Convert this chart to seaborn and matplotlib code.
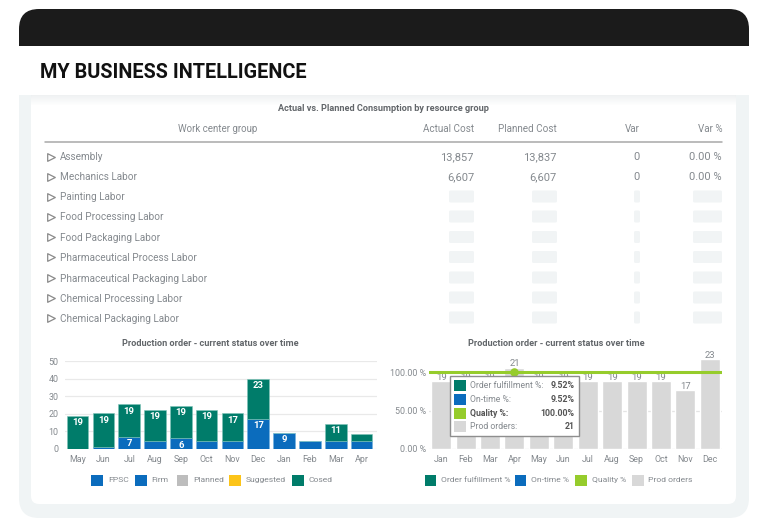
import numpy as np
import pandas as pd
import seaborn as sns
import matplotlib
matplotlib.use('Agg')
import matplotlib.pyplot as plt
from matplotlib.patches import FancyBboxPatch, Rectangle

# table data
work_centers = ['Assembly', 'Mechanics Labor', 'Painting Labor', 'Food Processing Labor',
                'Food Packaging Labor', 'Pharmaceutical Process Labor',
                'Pharmaceutical Packaging Labor', 'Chemical Processing Labor',
                'Chemical Packaging Labor']
actual_cost = ['13,857', '6,607']
planned_cost = ['13,837', '6,607']
var_abs = ['0', '0']
var_pct = ['0.00 %', '0.00 %']

# left chart
status_months = ['May', 'Jun', 'Jul', 'Aug', 'Sep', 'Oct', 'Nov', 'Dec', 'Jan', 'Feb', 'Mar', 'Apr']
firm_orders = [0, 1, 7, 4.5, 6, 4.5, 4.5, 17, 9, 4.5, 4.5, 4.5]
closed_orders = [19, 19.3, 18.5, 17.7, 18.8, 17.7, 15.8, 23, 0, 0, 10, 4.3]
firm_labels = ['', '', '7', '', '6', '', '', '17', '9', '', '', '']
closed_labels = ['19', '19', '19', '19', '19', '19', '17', '23', '', '', '11', '']

# right chart
kpi_months = ['Jan', 'Feb', 'Mar', 'Apr', 'May', 'Jun', 'Jul', 'Aug', 'Sep', 'Oct', 'Nov', 'Dec']
prod_orders = [19, 19, 19, 21, 19, 19, 19, 19, 19, 19, 17, 23]
prod_bar_pct = [88, 88, 88, 106, 88, 88, 88, 88, 88, 88, 77, 117]
quality_pct = 100
hover_month = 'Apr'
tooltip_names = ['Order fulfillment %:', 'On-time %:', 'Quality %:', 'Prod orders:']
tooltip_values = ['9.52%', '9.52%', '100.00%', '21']

TEAL = '#007c6a'
BLUE = '#0b6cbd'
GREEN = '#96cc2c'
GREY = '#d8d8d8'
TXT = '#84898e'
TXT_DARK = '#62666a'
PANEL = '#f0f4f5'

sns.set_theme(style='white')
plt.rcParams['font.family'] = ['Roboto', 'DejaVu Sans']

W, H = 768, 527
fig = plt.figure(figsize=(W / 100, H / 100), dpi=100, facecolor='white')


def px_axes(left, top, right, bottom, z):
    return fig.add_axes([left / W, 1 - bottom / H, (right - left) / W, (bottom - top) / H], zorder=z)


# page chrome, in pixels
bg = fig.add_axes([0, 0, 1, 1], zorder=0)
bg.set_xlim(0, W)
bg.set_ylim(H, 0)
bg.axis('off')
bg.add_patch(FancyBboxPatch((19, 60), 730, 458, boxstyle='round,pad=0,rounding_size=20', fc=PANEL, ec='none'))
bg.add_patch(FancyBboxPatch((19, 9), 730, 60, boxstyle='round,pad=0,rounding_size=20', fc='#1b1b1b', ec='none'))
bg.add_patch(FancyBboxPatch((31, 90), 705, 414, boxstyle='round,pad=0,rounding_size=8', fc='white', ec='none'))
bg.add_patch(Rectangle((19, 46), 730, 49, fc='white', ec='none'))
for i in range(10):
    bg.add_patch(Rectangle((31, 95 + i), 705, 1, fc='#e3e7e9', ec='none', alpha=0.55 * (1 - i / 10)))

bg.text(40, 72.5, 'MY BUSINESS INTELLIGENCE', fontsize=14.3, fontweight='bold', color='#111111', va='center')
bg.text(383, 108.5, 'Actual vs. Planned Consumption by resource group', fontsize=6.6, fontweight='bold',
        color=TXT_DARK, ha='center', va='center')

# table
col_right = [474, 557, 640, 722]
col_heads = ['Actual Cost', 'Planned Cost', 'Var', 'Var %']
col_data = [actual_cost, planned_cost, var_abs, var_pct]
col_skel = [25, 25, 6, 29]
row_y = [157.5, 177.5, 197.5, 217.5, 238, 258, 278.5, 298.5, 318.5]
bg.text(218, 129.5, 'Work center group', fontsize=7, color=TXT, ha='center', va='center')
bg.plot([45, 722], [142, 142], color='#a8a8a8', lw=1.1)
for x, head in zip(col_right, col_heads):
    bg.text(x, 129.5, head, fontsize=7.1, color=TXT, ha='right', va='center')
for i, (name, y) in enumerate(zip(work_centers, row_y)):
    bg.scatter([50.5], [y - 1], marker='>', s=30, facecolor='white', edgecolor='#8a8a8a', linewidth=0.9)
    bg.text(60, y, name, fontsize=7.2, color=TXT, va='center')
    for x, vals, skel in zip(col_right, col_data, col_skel):
        if i < len(vals):
            bg.text(x, y, vals[i], fontsize=8, color=TXT, ha='right', va='center')
        else:
            bg.add_patch(FancyBboxPatch((x - skel + 1, y - 6), skel - 2, 10,
                                        boxstyle='round,pad=1,rounding_size=1.5', fc='#f1f4f5', ec='none'))

# left chart
ax1 = px_axes(64.7, 361.3, 377, 449, 2)
ax1.patch.set_alpha(0)
status_df = pd.DataFrame({'month': status_months, 'firm': firm_orders, 'closed': closed_orders})
sns.barplot(data=status_df, x='month', y='firm', color=BLUE, saturation=1, width=0.84, ax=ax1,
            edgecolor='#6fb0e0', linewidth=0.4, order=status_months)
sns.barplot(data=status_df, x='month', y='closed', color=TEAL, saturation=1, width=0.84, ax=ax1,
            bottom=status_df['firm'], edgecolor='#7fc4b8', linewidth=0.4, order=status_months)
ax1.set_xlim(-0.5, 11.6)
ax1.set_ylim(0, 50)
ax1.set_yticks(range(0, 51, 10))
ax1.set_xlabel('')
ax1.set_ylabel('')
ax1.yaxis.grid(True, color='#e9e9e9', lw=0.9)
ax1.set_axisbelow(True)
sns.despine(ax=ax1, left=True, bottom=True)
ax1.tick_params(length=0, labelsize=6.4, labelcolor=TXT, pad=4)
ax1.tick_params(axis='y', pad=4.5)
for i, m in enumerate(status_months):
    if firm_labels[i]:
        ax1.text(i, firm_orders[i] - 1.3, firm_labels[i], color='white', fontsize=6.8, fontweight='bold',
                 ha='center', va='top')
    if closed_labels[i]:
        ax1.text(i, firm_orders[i] + closed_orders[i] - 1.3, closed_labels[i], color='white', fontsize=6.8,
                 fontweight='bold', ha='center', va='top')

# right chart
ax2 = px_axes(429, 355, 722, 449, 2)
ax2.patch.set_alpha(0)
kpi_df = pd.DataFrame({'month': kpi_months, 'bar': prod_bar_pct, 'orders': prod_orders})
sns.barplot(data=kpi_df, x='month', y='bar', color=GREY, saturation=1, width=0.82, ax=ax2, order=kpi_months)
ax2.axhline(quality_pct, color=GREEN, lw=2.2, zorder=3)
sns.scatterplot(x=[kpi_months.index(hover_month)], y=[quality_pct], color=GREEN, s=38, ax=ax2,
                zorder=4, linewidth=0, legend=False)
ax2.set_xlim(-0.5, 11.5)
ax2.set_ylim(0, 122.5)
ax2.set_yticks([0, 50, 100])
ax2.set_yticklabels(['0.00 %', '50.00 %', '100.00 %'])
ax2.set_xlabel('')
ax2.set_ylabel('')
ax2.yaxis.grid(True, color='#e4e4e4', lw=0.9)
ax2.set_axisbelow(True)
sns.despine(ax=ax2, left=True, bottom=True)
ax2.tick_params(length=0, labelsize=6.4, labelcolor=TXT, pad=4)
ax2.tick_params(axis='y', pad=2.2)
for i in range(len(kpi_months)):
    ax2.text(i, prod_bar_pct[i] + 5, str(prod_orders[i]), color=TXT, fontsize=6.8, ha='center', va='center',
             zorder=2)

# overlay, titles, legends and tooltip
top = fig.add_axes([0, 0, 1, 1], zorder=5)
top.set_xlim(0, W)
top.set_ylim(H, 0)
top.axis('off')
top.text(210.5, 343.5, 'Production order - current status over time', fontsize=6.6, fontweight='bold',
         color=TXT_DARK, ha='center', va='center')
top.text(556, 343.5, 'Production order - current status over time', fontsize=6.6, fontweight='bold',
         color=TXT_DARK, ha='center', va='center')

legend_left = [(91.3, BLUE, 'FPSC'), (135, BLUE, 'Firm'), (176.5, '#bdbdbd', 'Planned'),
               (229, '#fcc419', 'Suggested'), (292, TEAL, 'Cosed')]
legend_right = [(424.7, TEAL, 'Order fulfillment %'), (514.7, BLUE, 'On-time %'),
                (575, GREEN, 'Quality %'), (632, GREY, 'Prod orders')]
for x, c, label in legend_left + legend_right:
    top.add_patch(Rectangle((x, 474.5), 11.5, 11, fc=c, ec='none'))
    top.text(x + 16.5, 480, label, fontsize=6.1, color=TXT, va='center')

top.add_patch(Rectangle((449.5, 375.7), 129.5, 60, fc='white', ec='#8e8e8e', lw=1))
tip_colors = [TEAL, BLUE, GREEN, GREY]
tip_y = [385.7, 399, 413, 426.3]
for i in range(4):
    top.add_patch(Rectangle((454, tip_y[i] - 5.5), 11.5, 11, fc=tip_colors[i], ec='none'))
    bold = tooltip_names[i] == 'Quality %:'
    top.text(469.5, tip_y[i], tooltip_names[i], fontsize=6.2, color='#555555' if bold else TXT,
             fontweight='bold' if bold else 'normal', va='center')
    top.text(574.5, tip_y[i], tooltip_values[i], fontsize=6.3, color='#555555', fontweight='bold',
             ha='right', va='center')

plt.savefig('out.png', dpi=100)
